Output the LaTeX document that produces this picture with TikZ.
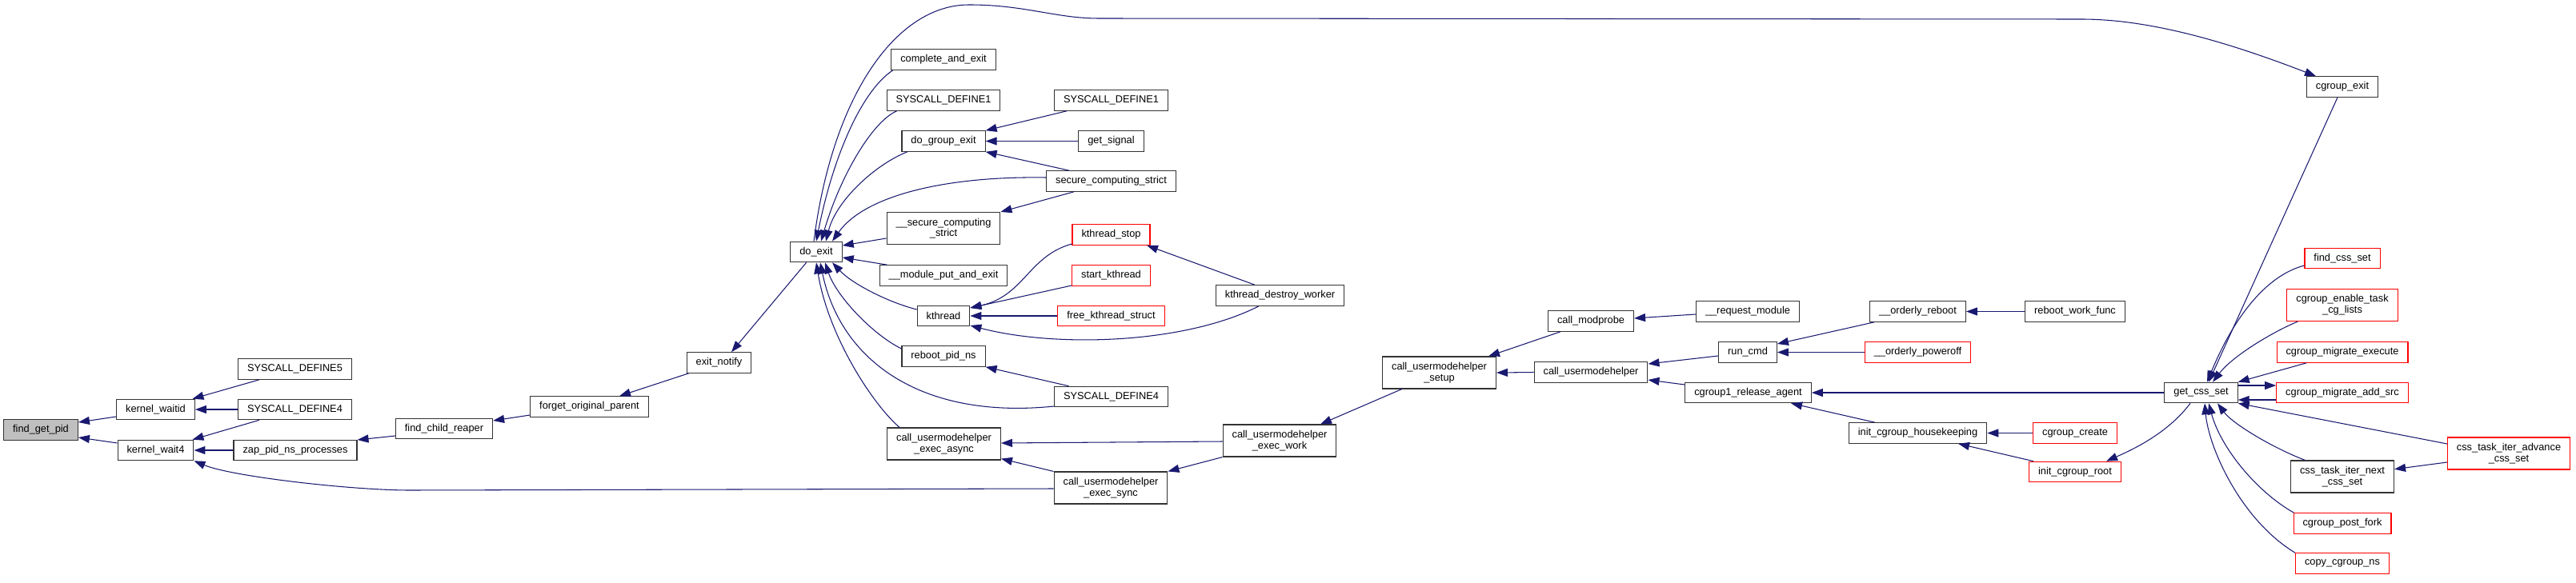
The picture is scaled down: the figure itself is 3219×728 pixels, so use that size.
\documentclass[tikz,border=0pt]{standalone}
\usepackage{fontspec}
\setmainfont{Liberation Sans}
\usetikzlibrary{arrows.meta}
\definecolor{edgeblue}{HTML}{191970}
\definecolor{rootgray}{HTML}{BFBFBF}
\begin{document}
\begin{tikzpicture}[x=1pt,y=-1pt,
  nbox/.style={draw=black!80, line width=1.1pt, fill=white, rectangle, inner xsep=11.5pt, inner ysep=2pt,
    minimum height=25.5pt, font=\fontsize{12.8}{13.7}\selectfont, align=center},
  twol/.style={minimum height=40pt},
  redbox/.style={nbox, draw=red},
  rootbox/.style={nbox, fill=rootgray},
  cedge/.style={draw=edgeblue, line width=1.05pt, -{Triangle[length=14pt,width=10pt]}}]
\useasboundingbox (0,0) rectangle (3219,728);
% nodes
\node[rootbox] (fgp) at (51,537.5) {find\_get\_pid};
\node[nbox] (kwid) at (194.5,512) {kernel\_waitid};
\node[nbox] (kw4) at (194.5,563) {kernel\_wait4};
\node[nbox] (sd5) at (368.5,461.5) {SYSCALL\_DEFINE5};
\node[nbox] (sd4a) at (368.5,512) {SYSCALL\_DEFINE4};
\node[nbox] (zap) at (369,563) {zap\_pid\_ns\_processes};
\node[nbox] (fcr) at (555,536) {find\_child\_reaper};
\node[nbox] (fop) at (736.5,508.5) {forget\_original\_parent};
\node[nbox] (en) at (898.5,453.5) {exit\_notify};
\node[nbox] (de) at (1020,315) {do\_exit};
\node[nbox] (cae) at (1179,74.5) {complete\_and\_exit};
\node[nbox] (sd1a) at (1179,125.5) {SYSCALL\_DEFINE1};
\node[nbox] (dge) at (1179,176.5) {do\_group\_exit};
\node[nbox,twol] (scs2) at (1179,285.5) {\_\_secure\_computing\\\_strict};
\node[nbox] (mpe) at (1179,344.5) {\_\_module\_put\_and\_exit};
\node[nbox] (kt) at (1179,395) {kthread};
\node[nbox] (rpn) at (1179,445.5) {reboot\_pid\_ns};
\node[nbox,twol] (cuea) at (1179.5,555) {call\_usermodehelper\\\_exec\_async};
\node[nbox] (sd1b) at (1388.5,125.5) {SYSCALL\_DEFINE1};
\node[nbox] (gs) at (1388.5,176.5) {get\_signal};
\node[nbox] (scs) at (1388.5,226.5) {secure\_computing\_strict};
\node[redbox] (kts) at (1388.5,293.5) {kthread\_stop};
\node[redbox] (skt) at (1388.5,344.5) {start\_kthread};
\node[redbox] (fks) at (1388.5,395) {free\_kthread\_struct};
\node[nbox] (sd4b) at (1388.5,496) {SYSCALL\_DEFINE4};
\node[nbox,twol] (cues) at (1388,610) {call\_usermodehelper\\\_exec\_sync};
\node[nbox] (kdw) at (1599.5,369.5) {kthread\_destroy\_worker};
\node[nbox,twol] (cuew) at (1599,551) {call\_usermodehelper\\\_exec\_work};
\node[nbox,twol] (cus) at (1798.5,466) {call\_usermodehelper\\\_setup};
\node[nbox] (cmp) at (1988,401.5) {call\_modprobe};
\node[nbox] (cu) at (1988,465.5) {call\_usermodehelper};
\node[nbox] (rqm) at (2184,389.5) {\_\_request\_module};
\node[nbox] (rc) at (2184,440.5) {run\_cmd};
\node[nbox] (cra) at (2184.5,491) {cgroup1\_release\_agent};
\node[nbox] (oreb) at (2396.5,389.5) {\_\_orderly\_reboot};
\node[redbox] (opow) at (2396.5,440.5) {\_\_orderly\_poweroff};
\node[nbox] (ich) at (2396.5,541.5) {init\_cgroup\_housekeeping};
\node[nbox] (rwf) at (2593,389.5) {reboot\_work\_func};
\node[redbox] (cgc) at (2593,541.5) {cgroup\_create};
\node[redbox] (icr) at (2593,590) {init\_cgroup\_root};
\node[nbox] (gcs) at (2750.5,491) {get\_css\_set};
\node[nbox] (cge) at (2927,108.5) {cgroup\_exit};
\node[redbox] (fcs) at (2927,323) {find\_css\_set};
\node[redbox,twol] (cetl) at (2927,381.5) {cgroup\_enable\_task\\\_cg\_lists};
\node[redbox] (cme) at (2927,440.5) {cgroup\_migrate\_execute};
\node[redbox] (cmas) at (2927,491) {cgroup\_migrate\_add\_src};
\node[nbox,twol] (ctin) at (2927,596) {css\_task\_iter\_next\\\_css\_set};
\node[redbox] (cpf) at (2927,654.5) {cgroup\_post\_fork};
\node[redbox] (ccn) at (2927,704.5) {copy\_cgroup\_ns};
\node[redbox,twol] (ctia) at (3135,567) {css\_task\_iter\_advance\\\_css\_set};
% edges (arrow at callee)
\draw[cedge] ([shift={(0,9)}]kwid.west) -- ([shift={(0,-9.5)}]fgp.east);
\draw[cedge] ([shift={(0,-9)}]kw4.west) -- ([shift={(0,9.5)}]fgp.east);
\draw[cedge] ([shift={(-44.5,0)}]sd5.south) -- ([shift={(46,0)}]kwid.north);
\draw[cedge] (sd4a.west) -- (kwid.east);
\draw[cedge] ([shift={(-44.5,0)}]sd4a.south) -- ([shift={(46,0)}]kw4.north);
\draw[cedge] (zap.west) -- (kw4.east);
\draw[cedge] ([shift={(0,1)}]cues.west) -- (512,613) .. controls (440,613) and (290,596) .. (kw4.south east);
\draw[cedge] ([shift={(0,9)}]fcr.west) -- ([shift={(0,-13)}]zap.east);
\draw[cedge] ([shift={(0,10.5)}]fop.west) -- ([shift={(0,-10)}]fcr.east);
\draw[cedge] ([shift={(3,0)}]en.south west) -- ([shift={(37.5,0)}]fop.north);
\draw[cedge] ([shift={(-12.4,0)}]de.south) -- ([shift={(15.5,0)}]en.north);
% into do_exit from above
\draw[cedge] ([shift={(2.5,0)}]cae.south west) .. controls (1075,115) and (1040,200) .. (de.north);
\draw[cedge] ([shift={(13,0)}]sd1a.south west) .. controls (1090,152) and (1050,220) .. ([shift={(6,0)}]de.north);
\draw[cedge] ([shift={(7.5,0)}]dge.south west) .. controls (1095,205) and (1045,250) .. ([shift={(12,0)}]de.north);
\draw[cedge] ([shift={(0,-4.5)}]scs.west) .. controls (1180,220) and (1080,245) .. ([shift={(20,0)}]de.north);
\draw[cedge] ([shift={(0,12.5)}]scs2.west) -- ([shift={(0,-8)}]de.east);
\draw[cedge] ([shift={(10,0)}]mpe.north west) -- ([shift={(0,7)}]de.east);
% into do_exit from below
\draw[cedge] ([shift={(0,-8)}]kt.west) .. controls (1110,378) and (1065,355) .. ([shift={(20,0)}]de.south);
\draw[cedge] ([shift={(0,-9.5)}]rpn.west) .. controls (1090,418) and (1045,370) .. ([shift={(11,0)}]de.south);
\draw[cedge] ([shift={(0,12)}]sd4b.west) .. controls (1150,525) and (1050,450) .. ([shift={(5,0)}]de.south);
\draw[cedge] ([shift={(16,0)}]cuea.north west) .. controls (1090,505) and (1035,420) .. (de.south);
% do_exit -> cgroup_exit
\draw[cedge] ([shift={(-3,0)}]de.north) .. controls (1040,120) and (1120,5) .. (1212,6)
  .. controls (1280,6) and (1320,23) .. (1373,23) -- (2601,24)
  .. controls (2690,24) and (2790,55) .. ([shift={(-33,0)}]cge.north);
% do_group_exit etc.
\draw[cedge] ([shift={(-55.5,0)}]sd1b.south) -- (dge.north east);
\draw[cedge] (gs.west) -- (dge.east);
\draw[cedge] ([shift={(-52.5,0)}]scs.north) -- (dge.south east);
\draw[cedge] ([shift={(-46.5,0)}]scs.south) -- (scs2.north east);
% kthread
\draw[cedge] ([shift={(0,11.5)}]kts.west) .. controls (1285,320) and (1280,370) .. ([shift={(0,-10)}]kt.east);
\draw[cedge] ([shift={(0,12.5)}]skt.west) -- ([shift={(0,-10)}]kt.east);
\draw[cedge] (fks.west) -- (kt.east);
\draw[cedge] ([shift={(-26.5,0)}]kdw.south) .. controls (1480,430) and (1320,435) .. ([shift={(0,12)}]kt.east);
\draw[cedge] ([shift={(-31.5,0)}]kdw.north) -- ([shift={(44.5,0)}]kts.south);
\draw[cedge] ([shift={(-53,0)}]sd4b.north) -- (rpn.south east);
% usermodehelper chain
\draw[cedge] ([shift={(0,1)}]cuew.west) -- ([shift={(0,-1)}]cuea.east);
\draw[cedge] (cues.north west) -- ([shift={(0,-2)}]cuea.south east);
\draw[cedge] (cuew.south west) -- (cues.north east);
\draw[cedge] ([shift={(-46.8,0)}]cus.south) -- ([shift={(51,0)}]cuew.north);
\draw[cedge] ([shift={(-38,0)}]cmp.south) -- ([shift={(61.5,0)}]cus.north);
\draw[cedge] (cu.west) -- (cus.east);
\draw[cedge] ([shift={(0,3.5)}]rqm.west) -- ([shift={(0,-3.5)}]cmp.east);
\draw[cedge] ([shift={(0,4.5)}]rc.west) -- ([shift={(0,-10.5)}]cu.east);
\draw[cedge] ([shift={(0,-10)}]cra.west) -- ([shift={(0,9.5)}]cu.east);
\draw[cedge] ([shift={(6,0)}]oreb.south west) -- ([shift={(0,-10.5)}]rc.east);
\draw[cedge] (opow.west) -- (rc.east);
\draw[cedge] (rwf.west) -- (oreb.east);
\draw[cedge] (gcs.west) -- (cra.east);
\draw[cedge] ([shift={(-53.5,0)}]ich.north) -- ([shift={(53.5,0)}]cra.south);
\draw[cedge] (cgc.west) -- (ich.east);
\draw[cedge] ([shift={(6,0)}]icr.north west) -- ([shift={(50.5,0)}]ich.south);
\draw[cedge] ([shift={(-13.5,0)}]gcs.south) .. controls (2710,540) and (2670,560) .. ([shift={(39,0)}]icr.north);
% get_css_set callers
\draw[cedge] ([shift={(-6,0)}]cge.south) -- ([shift={(9.5,0)}]gcs.north);
\draw[cedge] ([shift={(0,9)}]fcs.west) .. controls (2830,345) and (2790,400) .. ([shift={(7.5,0)}]gcs.north);
\draw[cedge] ([shift={(14,0)}]cetl.south west) .. controls (2840,415) and (2790,445) .. ([shift={(14.5,0)}]gcs.north);
\draw[cedge] ([shift={(37.7,0)}]cme.south west) -- (gcs.north east);
\draw[cedge] ([shift={(0,-9)}]gcs.east) -- ([shift={(0,-9)}]cmas.west);
\draw[cedge] ([shift={(0,9)}]cmas.west) -- ([shift={(0,9)}]gcs.east);
\draw[cedge] ([shift={(0,-12)}]ctia.west) -- (gcs.south east);
\draw[cedge] ([shift={(-46.5,0)}]ctin.north) .. controls (2840,560) and (2790,530) .. ([shift={(20.5,0)}]gcs.south);
\draw[cedge] ([shift={(1,0)}]cpf.north west) .. controls (2820,615) and (2775,560) .. ([shift={(9.5,0)}]gcs.south);
\draw[cedge] (ccn.north west) .. controls (2800,650) and (2760,560) .. ([shift={(4.5,0)}]gcs.south);
\draw[cedge] ([shift={(0,11)}]ctia.west) -- ([shift={(0,-9.3)}]ctin.east);
\end{tikzpicture}
\end{document}
